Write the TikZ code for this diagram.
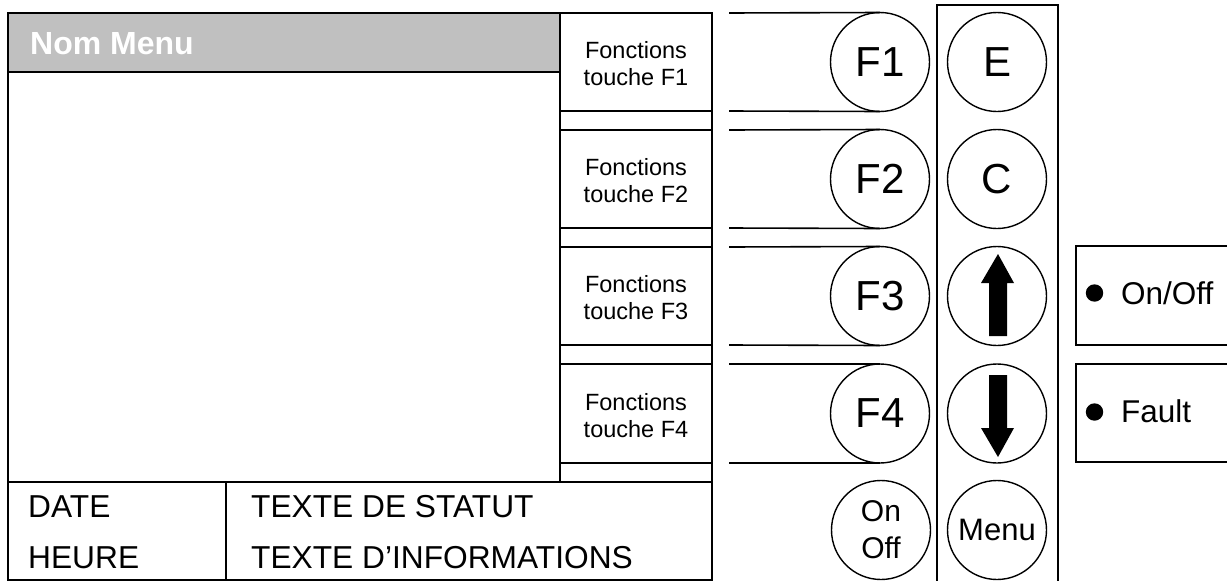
\documentclass[tikz,border=0pt]{standalone}
\usepackage{fontspec}
\setmainfont{Liberation Sans}
\definecolor{hdrgray}{HTML}{C0C0C0}
\begin{document}
\begin{tikzpicture}[x=1pt,y=-1pt,
  frame/.style={draw, line width=1.6pt, inner sep=0pt, outer sep=0pt},
  key/.style={circle, draw, line width=1.4pt, minimum size=99pt, inner sep=0pt, outer sep=0pt, font=\fontsize{42}{50}\selectfont},
  conn/.style={line width=1.6pt},
  ftext/.style={align=center, inner sep=0pt, font=\fontsize{23.5}{27}\selectfont},
  btext/.style={anchor=base west, inner sep=0pt, font=\fontsize{31.7}{37}\selectfont},
  itext/.style={anchor=base west, inner sep=0pt, font=\fontsize{31.5}{36}\selectfont},
  arrowfill/.style={fill=black}
]
\useasboundingbox (0,0) rectangle (1227,581);

% screen
\node[frame, minimum width=552pt, minimum height=469pt] (screen) at (284,247.5) {};
\node[frame, fill=hdrgray, minimum width=552pt, minimum height=59pt] (hdr) at (284,42.5) {};
\node[anchor=base west, inner sep=0pt, text=white, font=\bfseries\fontsize{32}{38}\selectfont] (hdrtxt) at (30,54) {Nom Menu};

% function column
\node[frame, minimum width=152pt, minimum height=469pt] (col) at (636,247.5) {};
\node[frame, minimum width=152pt, minimum height=98pt] (b1) at (636,62) {};
\node[frame, minimum width=152pt, minimum height=98pt] (b2) at (636,179) {};
\node[frame, minimum width=152pt, minimum height=98pt] (b3) at (636,296) {};
\node[frame, minimum width=152pt, minimum height=99pt] (b4) at (636,413.5) {};
\node[ftext] (t1) at (636,64) {Fonctions\\touche F1};
\node[ftext] (t2) at (636,181) {Fonctions\\touche F2};
\node[ftext] (t3) at (636,298) {Fonctions\\touche F3};
\node[ftext] (t4) at (636,415.5) {Fonctions\\touche F4};

% bottom band
\node[frame, minimum width=218pt, minimum height=98pt] (datebox) at (117,531) {};
\node[frame, minimum width=486pt, minimum height=98pt] (statbox) at (469,531) {};
\node[btext] (date) at (28,517) {DATE};
\node[btext] (heure) at (28,568) {HEURE};
\node[btext] (statut) at (251,517) {TEXTE DE STATUT};
\node[btext] (info) at (251,568) {TEXTE D’INFORMATIONS};

% right panel
\coordinate (pbl) at (937,581);
\coordinate (ptl) at (937,5);
\coordinate (ptr) at (1058,5);
\coordinate (pbr) at (1058,581);
\draw[line width=1.4pt] (pbl) -- (ptl) -- (ptr) -- (pbr);

% F keys
\node[key] (f1) at (880,62) {F1};
\node[key] (f2) at (880,179) {F2};
\node[key] (f3) at (880,296) {F3};
\node[key] (f4) at (880,413.5) {F4};
\node[key, align=center, font=\fontsize{30}{37}\selectfont] (onoff) at (881,530) {On\\Off};

% right keys
\node[key] (ke) at (997,62) {E};
\node[key] (kc) at (997,179) {C};
\node[key] (kup) at (997,296) {};
\node[key] (kdown) at (997,413.5) {};
\node[key, font=\fontsize{31}{37}\selectfont] (kmenu) at (997,530) {Menu};

% connectors from column to F keys
\coordinate (s1t) at (729,13);  \coordinate (s1b) at (729,111);
\coordinate (s2t) at (729,130); \coordinate (s2b) at (729,228);
\coordinate (s3t) at (729,247); \coordinate (s3b) at (729,345);
\coordinate (s4t) at (729,364); \coordinate (s4b) at (729,463);
\draw[conn] (s1t) -- (f1.north); \draw[conn] (s1b) -- (f1.south);
\draw[conn] (s2t) -- (f2.north); \draw[conn] (s2b) -- (f2.south);
\draw[conn] (s3t) -- (f3.north); \draw[conn] (s3b) -- (f3.south);
\draw[conn] (s4t) -- (f4.north); \draw[conn] (s4b) -- (f4.south);

% arrows
\fill[arrowfill] ([shift={(-8,40)}]kup.center) -- ([shift={(-8,-13)}]kup.center) -- ([shift={(-16,-13)}]kup.center)
  -- ([shift={(1,-42)}]kup.center) -- ([shift={(17,-13)}]kup.center) -- ([shift={(10,-13)}]kup.center)
  -- ([shift={(10,40)}]kup.center) -- cycle;
\fill[arrowfill] ([shift={(-8,-38.5)}]kdown.center) -- ([shift={(-8,14.5)}]kdown.center) -- ([shift={(-16,14.5)}]kdown.center)
  -- ([shift={(1,43.5)}]kdown.center) -- ([shift={(17,14.5)}]kdown.center) -- ([shift={(10,14.5)}]kdown.center)
  -- ([shift={(10,-38.5)}]kdown.center) -- cycle;

% indicators
\coordinate (i1a) at (1227,246); \coordinate (i1b) at (1076,246);
\coordinate (i1c) at (1076,345); \coordinate (i1d) at (1227,345);
\draw[line width=1.6pt] (i1a) -- (i1b) -- (i1c) -- (i1d);
\coordinate (i2a) at (1227,364); \coordinate (i2b) at (1076,364);
\coordinate (i2c) at (1076,462); \coordinate (i2d) at (1227,462);
\draw[line width=1.6pt] (i2a) -- (i2b) -- (i2c) -- (i2d);
\fill (1094.5,293) circle[radius=8.7pt];
\fill (1094.5,412) circle[radius=8.7pt];
\node[itext] (lon) at (1121,304) {On/Off};
\node[itext] (lfault) at (1121,422) {Fault};
\end{tikzpicture}
\end{document}
